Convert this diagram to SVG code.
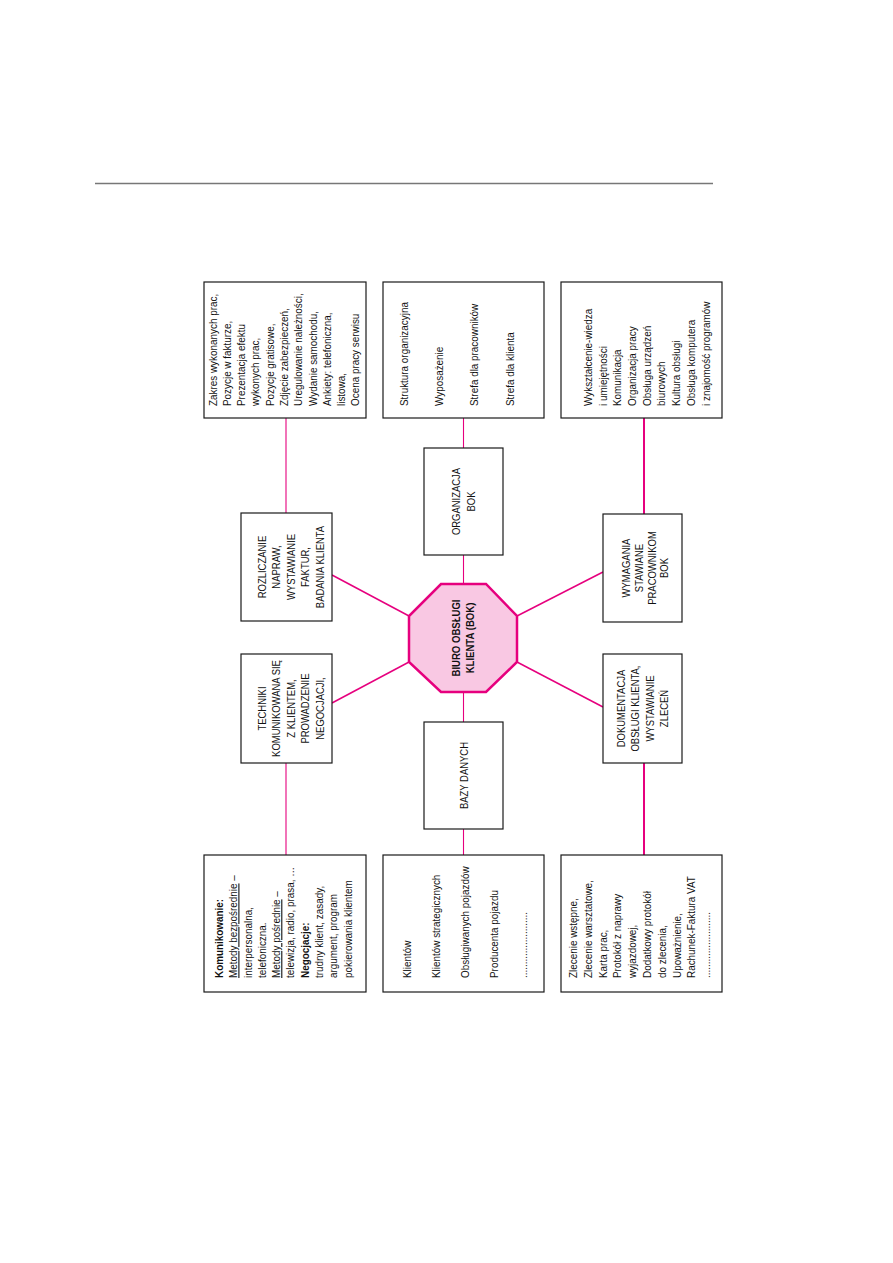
<svg xmlns="http://www.w3.org/2000/svg" width="893" height="1263" viewBox="0 0 893 1263">
<style>
.box{fill:#fff;stroke:#1a1a1a;stroke-width:1.2}
.t{font-family:"Liberation Sans",Arial,sans-serif;font-size:11px;fill:#111}
.c{text-anchor:middle}
.b{font-weight:bold}
.con{stroke:#e6007e;fill:none}
.thin{stroke-width:1.1}
.mid{stroke-width:1.5}
.thick{stroke-width:2}
</style>
<rect width="893" height="1263" fill="#fff"/>
<line x1="95" y1="183.5" x2="713" y2="183.5" stroke="#777" stroke-width="1.3"/>

<g id="connectors">
<line class="con thin" x1="286" y1="418" x2="286" y2="513"/>
<line class="con mid" x1="332" y1="575" x2="409" y2="616"/>
<line class="con mid" x1="332" y1="703" x2="409" y2="662"/>
<line class="con thin" x1="286" y1="763" x2="286" y2="855"/>
<line class="con thin" x1="463.5" y1="418" x2="463.5" y2="448"/>
<line class="con thin" x1="463.5" y1="555" x2="463.5" y2="584"/>
<line class="con thin" x1="463.5" y1="692" x2="463.5" y2="722"/>
<line class="con thin" x1="463.5" y1="829" x2="463.5" y2="855"/>
<line class="con thick" x1="644" y1="418" x2="644" y2="514"/>
<line class="con mid" x1="517" y1="616" x2="603" y2="572"/>
<line class="con mid" x1="517" y1="662" x2="603" y2="707"/>
<line class="con thick" x1="644" y1="763" x2="644" y2="855"/>
</g>

<g id="bok">
<polygon points="441,584 486,584 517,616 517,662 486,692 441,692 409,662 409,616" fill="#f9c8e3" stroke="#e6007e" stroke-width="2.5"/>
<g transform="translate(460,638) rotate(-90) scale(0.87,1)">
<text class="t c b" x="0" y="0">BIURO OBSŁUGI</text>
<text class="t c b" x="0" y="14">KLIENTA (BOK)</text>
</g>
</g>

<g id="rozliczanie">
<rect class="box" x="241" y="513" width="91" height="108"/>
<g transform="translate(266,567) rotate(-90) scale(0.86,1)">
<text class="t c" x="0" y="0">ROZLICZANIE</text>
<text class="t c" x="0" y="14.5">NAPRAW,</text>
<text class="t c" x="0" y="29">WYSTAWIANIE</text>
<text class="t c" x="0" y="43.5">FAKTUR,</text>
<text class="t c" x="0" y="58">BADANIA KLIENTA</text>
</g>
</g>

<g id="techniki">
<rect class="box" x="241" y="654" width="91" height="109"/>
<g transform="translate(266,708.5) rotate(-90) scale(0.86,1)">
<text class="t c" x="0" y="0">TECHNIKI</text>
<text class="t c" x="0" y="14.5">KOMUNIKOWANA SIĘ</text>
<text class="t c" x="0" y="29">Z KLIENTEM,</text>
<text class="t c" x="0" y="43.5">PROWADZENIE</text>
<text class="t c" x="0" y="58">NEGOCJACJI,</text>
</g>
</g>

<g id="organizacja">
<rect class="box" x="424" y="448" width="79" height="107"/>
<g transform="translate(460,501.5) rotate(-90) scale(0.86,1)">
<text class="t c" x="0" y="0">ORGANIZACJA</text>
<text class="t c" x="0" y="15">BOK</text>
</g>
</g>

<g id="bazy">
<rect class="box" x="424" y="722" width="79" height="107"/>
<g transform="translate(468,775.5) rotate(-90) scale(0.86,1)">
<text class="t c" x="0" y="0">BAZY DANYCH</text>
</g>
</g>

<g id="wymagania">
<rect class="box" x="603" y="514" width="79" height="108"/>
<g transform="translate(630,568) rotate(-90) scale(0.86,1)">
<text class="t c" x="0" y="0">WYMAGANIA</text>
<text class="t c" x="0" y="12.8">STAWIANE</text>
<text class="t c" x="0" y="25.6">PRACOWNIKOM</text>
<text class="t c" x="0" y="38.4">BOK</text>
</g>
</g>

<g id="dokumentacja">
<rect class="box" x="603" y="654" width="79" height="109"/>
<g transform="translate(625,708.5) rotate(-90) scale(0.86,1)">
<text class="t c" x="0" y="0">DOKUMENTACJA</text>
<text class="t c" x="0" y="14.3">OBSŁUGI KLIENTA,</text>
<text class="t c" x="0" y="28.6">WYSTAWIANIE</text>
<text class="t c" x="0" y="42.9">ZLECEŃ</text>
</g>
</g>

<g id="rozliczanie-lista">
<rect class="box" x="204" y="282" width="162" height="136"/>
<g transform="translate(216.5,406) rotate(-90) scale(0.9,1)">
<text class="t" x="0" y="0">Zakres wykonanych prac,</text>
<text class="t" x="0" y="14.3">Pozycje w fakturze,</text>
<text class="t" x="0" y="28.6">Prezentacja efektu</text>
<text class="t" x="0" y="42.9">wykonych prac,</text>
<text class="t" x="0" y="57.2">Pozycje gratisowe,</text>
<text class="t" x="0" y="71.5">Zdjęcie zabezpieczeń,</text>
<text class="t" x="0" y="85.8">Uregulowanie należności,</text>
<text class="t" x="0" y="100.1">Wydanie samochodu,</text>
<text class="t" x="0" y="114.4">Ankiety: telefoniczna,</text>
<text class="t" x="0" y="128.7">listowa,</text>
<text class="t" x="0" y="143">Ocena pracy serwisu</text>
</g>
</g>

<g id="organizacja-lista">
<rect class="box" x="383" y="282" width="161" height="136"/>
<g transform="translate(407.5,406) rotate(-90) scale(0.9,1)">
<text class="t" x="0" y="0">Struktura organizacyjna</text>
<text class="t" x="0" y="35.5">Wyposażenie</text>
<text class="t" x="0" y="71">Strefa dla pracowników</text>
<text class="t" x="0" y="106.5">Strefa dla klienta</text>
</g>
</g>

<g id="wymagania-lista">
<rect class="box" x="561" y="282" width="161" height="136"/>
<g transform="translate(592,406) rotate(-90) scale(0.9,1)">
<text class="t" x="0" y="0">Wykształcenie-wiedza</text>
<text class="t" x="0" y="14.7">i umiejętności</text>
<text class="t" x="0" y="29.4">Komunikacja</text>
<text class="t" x="0" y="44.1">Organizacja pracy</text>
<text class="t" x="0" y="58.8">Obsługa urządzeń</text>
<text class="t" x="0" y="73.5">biurowych</text>
<text class="t" x="0" y="88.2">Kultura obsługi</text>
<text class="t" x="0" y="102.9">Obsługa komputera</text>
<text class="t" x="0" y="117.6">i znajomość programów</text>
</g>
</g>

<g id="techniki-lista">
<rect class="box" x="204" y="855" width="162" height="137"/>
<g transform="translate(223,978) rotate(-90) scale(0.9,1)">
<text class="t b" x="0" y="0">Komunikowanie:</text>
<text class="t" x="0" y="14.3"><tspan text-decoration="underline">Metody bezpośrednie</tspan> –</text>
<text class="t" x="0" y="28.6">interpersonalna,</text>
<text class="t" x="0" y="42.9">telefoniczna.</text>
<text class="t" x="0" y="57.2"><tspan text-decoration="underline">Metody pośrednie</tspan> –</text>
<text class="t" x="0" y="71.5">telewizja, radio, prasa, …</text>
<text class="t b" x="0" y="85.8">Negocjacje:</text>
<text class="t" x="0" y="100.1">trudny klient, zasady,</text>
<text class="t" x="0" y="114.4">argument, program</text>
<text class="t" x="0" y="128.7">pokierowania klientem</text>
</g>
</g>

<g id="bazy-lista">
<rect class="box" x="383" y="855" width="161" height="137"/>
<g transform="translate(411,978) rotate(-90) scale(0.9,1)">
<text class="t" x="0" y="0">Klientów</text>
<text class="t" x="0" y="29">Klientów strategicznych</text>
<text class="t" x="0" y="58">Obsługiwanych pojazdów</text>
<text class="t" x="0" y="87">Producenta pojazdu</text>
<text class="t" x="0" y="116">........................</text>
</g>
</g>

<g id="dokumentacja-lista">
<rect class="box" x="561" y="855" width="161" height="137"/>
<g transform="translate(577,978) rotate(-90) scale(0.9,1)">
<text class="t" x="0" y="0">Zlecenie wstępne,</text>
<text class="t" x="0" y="14.8">Zlecenie warsztatowe,</text>
<text class="t" x="0" y="29.6">Karta prac,</text>
<text class="t" x="0" y="44.4">Protokół z naprawy</text>
<text class="t" x="0" y="59.2">wyjazdowej,</text>
<text class="t" x="0" y="74">Dodatkowy protokół</text>
<text class="t" x="0" y="88.8">do zlecenia,</text>
<text class="t" x="0" y="103.6">Upoważnienie,</text>
<text class="t" x="0" y="118.4">Rachunek-Faktura VAT</text>
<text class="t" x="0" y="133.2">........................</text>
</g>
</g>
</svg>
